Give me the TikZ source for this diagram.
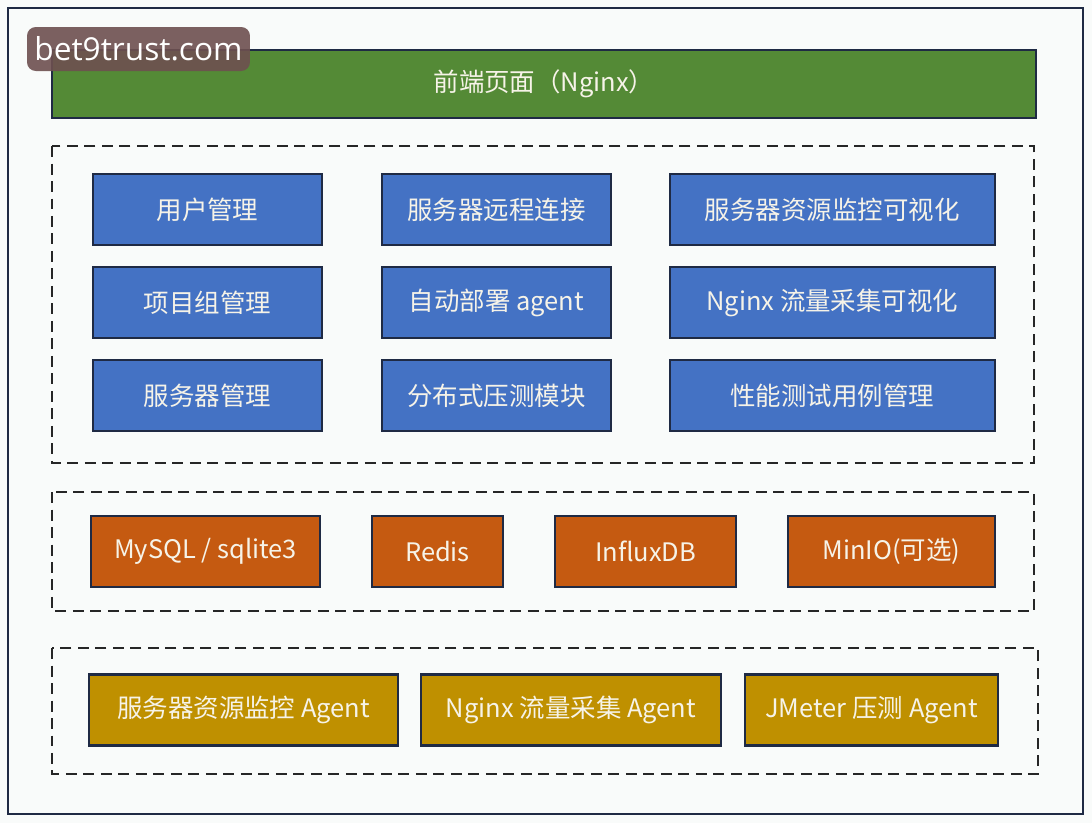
\documentclass[tikz,border=0pt]{standalone}
\usepackage{fontspec}
\setmainfont{Noto Sans CJK SC}
\newfontfamily\markfont{Open Sans}
\usetikzlibrary{positioning}

\definecolor{frontgreen}{HTML}{548A36}
\definecolor{modblue}{HTML}{4472C4}
\definecolor{storeorange}{HTML}{C55A11}
\definecolor{agentgold}{HTML}{BF9000}
\definecolor{edgenavy}{HTML}{1F2A44}
\definecolor{labelwhite}{HTML}{F6F3E8}
\definecolor{pagebg}{HTML}{F9FBFA}
\definecolor{markbrown}{HTML}{6E5050}

\begin{document}
\begin{tikzpicture}[x=0.02cm, y=-0.02cm,
	block/.style={rectangle, draw=edgenavy, line width=1.4pt, text=labelwhite, font=\fontsize{14.5}{17}\selectfont, minimum height=1.42cm, inner sep=0pt},
	module/.style={block, fill=modblue, minimum width=4.58cm},
	wide/.style={block, fill=modblue, minimum width=6.5cm},
	store/.style={block, fill=storeorange},
	agent/.style={block, fill=agentgold},
	layer/.style={draw=black!85, line width=1.6pt, dash pattern=on 0.22cm off 0.13cm}]

	% Page and frame
	\useasboundingbox[fill=pagebg] (0,0) rectangle (1092,823);
	\draw[edgenavy, line width=1.4pt] (8,8) rectangle (1083,814);

	% Front end
	\node[block, fill=frontgreen, minimum width=19.68cm, minimum height=1.36cm] (front) at (544,84) {前端页面（Nginx）};

	% Modules
	\draw[layer] (52,146) rectangle (1034,463);
	\node[module] (user) at (207.5,209.5) {用户管理};
	\node[module] (remote) [right=1.15cm of user] {服务器远程连接};
	\node[wide] (monitor) [right=1.13cm of remote] {服务器资源监控可视化};
	\node[module] (group) [below=0.39cm of user] {项目组管理};
	\node[module] (deploy) [below=0.39cm of remote] {自动部署 agent};
	\node[wide] (traffic) [below=0.39cm of monitor] {Nginx 流量采集可视化};
	\node[module] (server) [below=0.39cm of group] {服务器管理};
	\node[module] (stress) [below=0.39cm of deploy] {分布式压测模块};
	\node[wide] (cases) [below=0.39cm of traffic] {性能测试用例管理};

	% Storage
	\draw[layer] (52,492) rectangle (1034,611);
	\node[store, minimum width=4.58cm] (mysql) at (205.5,551.5) {MySQL / sqlite3};
	\node[store, minimum width=2.62cm] (redis) at (437.5,551.5) {Redis};
	\node[store, minimum width=3.62cm] (influx) at (645.5,551.5) {InfluxDB};
	\node[store, minimum width=4.14cm] (minio) at (891.5,551.5) {MinIO(可选)};

	% Agents
	\draw[layer] (52,648) rectangle (1038,774);
	\node[agent, minimum width=6.18cm] (resagent) at (243.5,710) {服务器资源监控 Agent};
	\node[agent, minimum width=6.0cm] (ngxagent) at (571,710) {Nginx 流量采集 Agent};
	\node[agent, minimum width=5.06cm] (jmagent) at (871.5,710) {JMeter 压测 Agent};

	% Watermark
	\node[rectangle, rounded corners=5pt, fill=markbrown, fill opacity=0.9, text opacity=1, text=white, font=\markfont\fontsize{18}{22}\selectfont, minimum width=4.46cm, minimum height=0.88cm, inner sep=0pt] (mark) at (138.5,49) {bet9trust.com};
\end{tikzpicture}
\end{document}
